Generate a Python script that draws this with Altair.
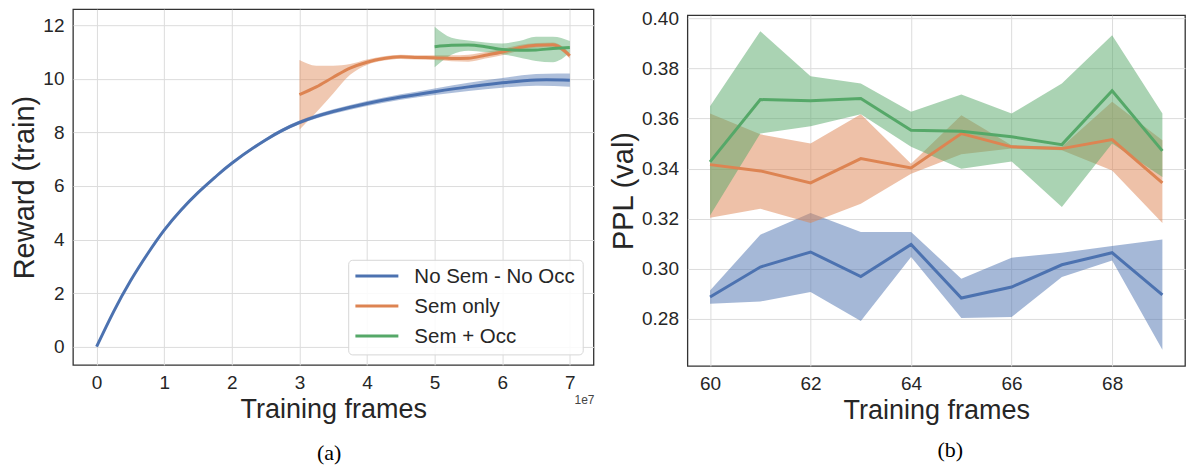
import altair as alt
import pandas as pd

SERIES = ["No Sem - No Occ", "Sem only", "Sem + Occ"]
COLORS = ["#4C72B0", "#DD8452", "#55A868"]

# ---------- (a) Reward (train) vs Training frames (x in units of 1e7) ----------
a_blue_x = [0, 0.25, 0.5, 0.75, 1, 1.25, 1.5, 1.75, 2, 2.5, 3, 3.5, 4, 4.5, 5, 5.5, 6, 6.5, 7]
a_blue_mean = [0, 1.3, 2.45, 3.45, 4.35, 5.1, 5.75, 6.32, 6.85, 7.72, 8.37, 8.78, 9.08, 9.32, 9.52, 9.7, 9.85, 9.96, 9.95]
a_blue_lo = [-0.02, 1.27, 2.41, 3.4, 4.3, 5.05, 5.7, 6.27, 6.8, 7.66, 8.3, 8.7, 8.99, 9.22, 9.4, 9.55, 9.67, 9.74, 9.7]
a_blue_hi = [0.02, 1.33, 2.49, 3.5, 4.4, 5.15, 5.8, 6.37, 6.9, 7.78, 8.44, 8.86, 9.17, 9.42, 9.64, 9.85, 10.03, 10.18, 10.2]

a_orange_x = [3, 3.25, 3.5, 3.75, 4, 4.25, 4.5, 4.75, 5, 5.25, 5.5, 5.75, 6, 6.25, 6.5, 6.75, 7]
a_orange_mean = [9.41, 9.7, 10.06, 10.4, 10.62, 10.76, 10.82, 10.8, 10.79, 10.76, 10.77, 10.88, 11.0, 11.16, 11.25, 11.27, 10.86]
a_orange_lo = [8.1, 8.75, 9.45, 10.15, 10.52, 10.68, 10.74, 10.72, 10.7, 10.66, 10.64, 10.76, 10.88, 11.05, 11.16, 11.18, 10.76]
a_orange_hi = [10.7, 10.49, 10.49, 10.55, 10.72, 10.84, 10.9, 10.88, 10.88, 10.88, 10.9, 11.0, 11.12, 11.26, 11.34, 11.36, 10.96]

a_green_x = [5, 5.25, 5.5, 5.75, 6, 6.25, 6.5, 6.75, 7]
a_green_mean = [11.2, 11.25, 11.26, 11.2, 11.1, 11.07, 11.08, 11.13, 11.17]
a_green_lo = [10.43, 10.9, 11.05, 11.0, 10.92, 10.8, 10.67, 10.62, 10.98]
a_green_hi = [11.94, 11.53, 11.43, 11.36, 11.32, 11.41, 11.57, 11.57, 11.41]

a_x_ticks = [0, 1, 2, 3, 4, 5, 6, 7]
a_y_ticks = [0, 2, 4, 6, 8, 10, 12]
a_offset_label = ["1e7"]

# ---------- (b) PPL (val) vs Training frames ----------
b_x = [60, 61, 62, 63, 64, 65, 66, 67, 68, 69]
b_blue_mean = [0.2887, 0.3007, 0.3067, 0.2969, 0.3097, 0.2883, 0.2927, 0.3016, 0.3064, 0.2896]
b_blue_lo = [0.2860, 0.2869, 0.2907, 0.2791, 0.3047, 0.2803, 0.2807, 0.2967, 0.3033, 0.2676]
b_blue_hi = [0.2913, 0.3136, 0.3223, 0.3147, 0.3147, 0.2960, 0.3044, 0.3064, 0.3091, 0.3117]
b_orange_mean = [0.3416, 0.3391, 0.3343, 0.3440, 0.3403, 0.3540, 0.3487, 0.3480, 0.3516, 0.3343]
b_orange_lo = [0.3204, 0.3240, 0.3183, 0.3260, 0.3380, 0.3457, 0.3480, 0.3473, 0.3393, 0.3183]
b_orange_hi = [0.3620, 0.3537, 0.3500, 0.3617, 0.3420, 0.3613, 0.3493, 0.3487, 0.3667, 0.3513]
b_green_mean = [0.3427, 0.3676, 0.3671, 0.3680, 0.3553, 0.3549, 0.3527, 0.3496, 0.3711, 0.3471]
b_green_lo = [0.3213, 0.3540, 0.3569, 0.3617, 0.3487, 0.3400, 0.3429, 0.3247, 0.3500, 0.3367]
b_green_hi = [0.3649, 0.3949, 0.3769, 0.3740, 0.3627, 0.3696, 0.3620, 0.3740, 0.3933, 0.3620]

b_x_ticks = [60, 62, 64, 66, 68]
b_y_ticks = [0.28, 0.30, 0.32, 0.34, 0.36, 0.38, 0.40]


def table(xs, means, los, his, name):
    return pd.DataFrame({"x": xs, "mean": means, "lo": los, "hi": his, "series": name})


dfa = pd.concat([
    table(a_blue_x, a_blue_mean, a_blue_lo, a_blue_hi, SERIES[0]),
    table(a_orange_x, a_orange_mean, a_orange_lo, a_orange_hi, SERIES[1]),
    table(a_green_x, a_green_mean, a_green_lo, a_green_hi, SERIES[2]),
], ignore_index=True)

dfb = pd.concat([
    table(b_x, b_blue_mean, b_blue_lo, b_blue_hi, SERIES[0]),
    table(b_x, b_orange_mean, b_orange_lo, b_orange_hi, SERIES[1]),
    table(b_x, b_green_mean, b_green_lo, b_green_hi, SERIES[2]),
], ignore_index=True)

FONT = "Liberation Sans"
TXT = "#262626"


def layers_for(df, xdom, ydom, xticks, yticks, ytitle, yfmt, interps, band_op):
    xenc = alt.X("x:Q", scale=alt.Scale(domain=xdom, nice=False, zero=False),
                 axis=alt.Axis(values=xticks, title="Training frames", format="d"))
    yscale = alt.Scale(domain=ydom, nice=False, zero=False)
    yax = alt.Axis(values=yticks, title=ytitle, format=yfmt)
    out = []
    for s, ip in zip(SERIES, interps):
        base = alt.Chart(df).transform_filter(alt.datum.series == s)
        out.append(base.mark_area(opacity=band_op, interpolate=ip).encode(
            x=xenc,
            y=alt.Y("lo:Q", scale=yscale, axis=yax),
            y2="hi:Q",
            fill=alt.Fill("series:N", scale=alt.Scale(domain=SERIES, range=COLORS), legend=None),
        ))
    for s, ip in zip(SERIES, interps):
        base = alt.Chart(df).transform_filter(alt.datum.series == s)
        out.append(base.mark_line(strokeWidth=3, interpolate=ip).encode(
            x=xenc,
            y=alt.Y("mean:Q", scale=yscale, axis=yax),
            color=alt.Color("series:N", scale=alt.Scale(domain=SERIES, range=COLORS), legend=None),
        ))
    return out


W_A, H_A = 521, 356
W_B, H_B = 498, 351

a_layers = layers_for(dfa, [-0.35, 7.35], [-0.68, 12.6], a_x_ticks, a_y_ticks, "Reward (train)", "d",
                      ["natural", "monotone", "monotone"], 0.45)

offset_txt = alt.Chart(pd.DataFrame({"t": a_offset_label})).mark_text(
    fontSize=12, color="#444444", font=FONT
).encode(x=alt.value(W_A - 9), y=alt.value(H_A + 35), text="t:N")

# legend (drawn inside the lower-right corner of panel (a))
leg_df = pd.DataFrame({"series": SERIES})
leg_box = alt.Chart(pd.DataFrame({"k": [0]})).mark_rect(
    fill="#ffffff", fillOpacity=0.85, stroke="#d6d6d6", strokeWidth=1, cornerRadius=4
).encode(x=alt.value(276), x2=alt.value(510.7), y=alt.value(H_A - 104.7), y2=alt.value(H_A - 10))
leg_layers = [leg_box]
for i, (s, c) in enumerate(zip(SERIES, COLORS)):
    yy = H_A - 89 + i * 30
    entry = alt.Chart(leg_df).transform_filter(alt.datum.series == s)
    leg_layers.append(entry.mark_rule(strokeWidth=3, color=c).encode(
        x=alt.value(282.7), x2=alt.value(325.7), y=alt.value(yy)))
    leg_layers.append(entry.mark_text(align="left", baseline="middle", fontSize=20.5,
                                      color=TXT, font=FONT).encode(
        x=alt.value(341.7), y=alt.value(yy + 1), text="series:N"))

left = alt.layer(*a_layers, offset_txt, *leg_layers).properties(
    width=W_A, height=H_A,
    title=alt.TitleParams("(a)", orient="bottom", font="Liberation Serif", fontSize=22,
                          fontWeight="normal", color="#000000", offset=20, dx=-4)
)

b_layers = layers_for(dfb, [59.55, 69.45], [0.2612, 0.4013], b_x_ticks, b_y_ticks, "PPL (val)", ".2f",
                      ["linear", "linear", "linear"], 0.5)

right = alt.layer(*b_layers).properties(
    width=W_B, height=H_B,
    title=alt.TitleParams("(b)", orient="bottom", font="Liberation Serif", fontSize=22,
                          fontWeight="normal", color="#000000", offset=16, dx=14)
)

spacer = alt.Chart(pd.DataFrame({"t": [0]})).mark_rule(opacity=0).encode(
    x=alt.value(0), x2=alt.value(1), y=alt.value(0)
).properties(width=W_B, height=1, view=alt.ViewBackground(stroke="transparent"))

right_col = alt.vconcat(spacer, right, spacing=-3)

chart = alt.hconcat(left, right_col, spacing=13).properties(
    padding={"left": 2, "top": 0, "right": 0, "bottom": 4}
).configure(
    font=FONT,
).configure_view(
    stroke="#333333", strokeWidth=1.3
).configure_axis(
    domain=False, ticks=False, grid=True, gridColor="#dcdcdc", gridWidth=1,
    labelFont=FONT, labelFontSize=19, labelColor=TXT, labelPadding=9,
    titleFont=FONT, titleFontSize=27, titleFontWeight="normal", titleColor=TXT,
    titlePadding=4,
).configure_axisY(
    titleFontSize=29, titlePadding=3,
)

chart.save("out.html", embed_options={"renderer": "svg", "actions": False})
